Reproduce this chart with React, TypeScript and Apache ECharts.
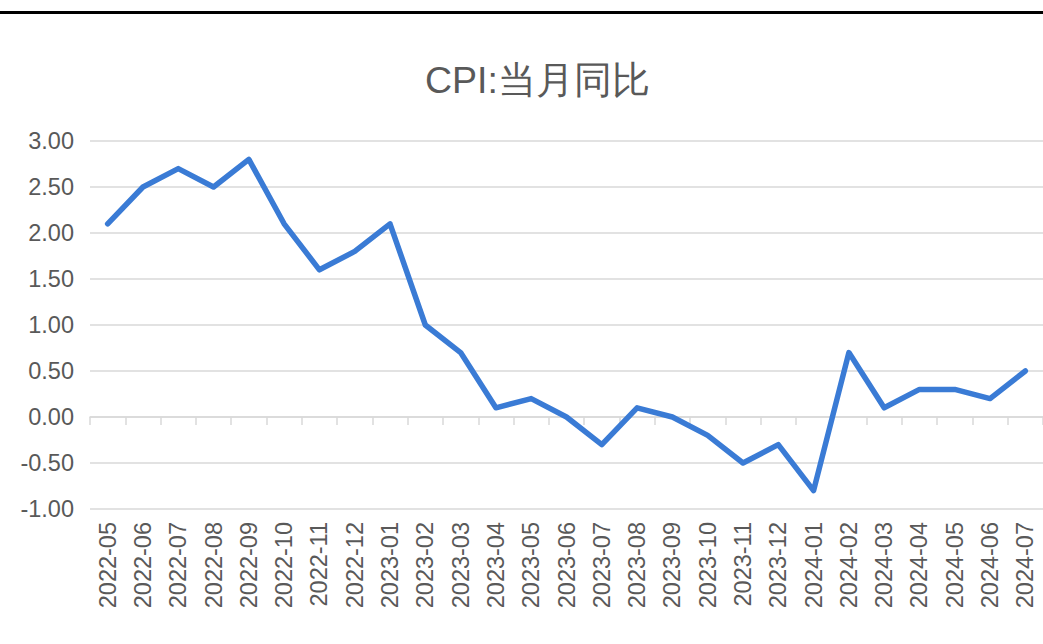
import React, { useEffect, useRef } from "react";
import * as echarts from "echarts";

const categories = [
  "2022-05", "2022-06", "2022-07", "2022-08", "2022-09", "2022-10", "2022-11", "2022-12",
  "2023-01", "2023-02", "2023-03", "2023-04", "2023-05", "2023-06", "2023-07", "2023-08",
  "2023-09", "2023-10", "2023-11", "2023-12", "2024-01", "2024-02", "2024-03", "2024-04",
  "2024-05", "2024-06", "2024-07",
];
const cpiYoY = [
  2.1, 2.5, 2.7, 2.5, 2.8, 2.1, 1.6, 1.8,
  2.1, 1.0, 0.7, 0.1, 0.2, 0.0, -0.3, 0.1,
  0.0, -0.2, -0.5, -0.3, -0.8, 0.7, 0.1, 0.3,
  0.3, 0.2, 0.5,
];
const titleText = "CPI:当月同比";

const FONT = "'Liberation Sans', Arial, sans-serif";

export default function App() {
  const ref = useRef<HTMLDivElement>(null);
  useEffect(() => {
    document.body.style.margin = "0";
    const chart = echarts.init(ref.current!, null, { renderer: "svg" });
    chart.setOption({
      animation: false,
      title: {
        text: titleText,
        left: 420,
        top: 56,
        textStyle: { fontFamily: FONT, fontSize: 37.5, fontWeight: "normal", color: "#595959" },
      },
      grid: { left: 90, right: 0, top: 141, bottom: 135, containLabel: false },
      xAxis: [
        {
          type: "category",
          data: categories,
          position: "bottom",
          boundaryGap: true,
          axisLine: { show: false, onZero: false },
          axisTick: { show: false },
          splitLine: { show: false },
          axisLabel: {
            rotate: 90,
            margin: 13,
            fontFamily: FONT,
            fontSize: 23.5,
            color: "#595959",
            interval: 0,
          },
        },
        {
          type: "category",
          data: categories,
          position: "bottom",
          boundaryGap: true,
          axisLine: { show: true, onZero: true, lineStyle: { color: "#d9d9d9", width: 1.5 } },
          axisTick: { show: true, inside: false, length: 8, interval: 0, lineStyle: { color: "#d9d9d9", width: 1.5 } },
          axisLabel: { show: false },
          splitLine: { show: false },
        },
      ],
      yAxis: {
        type: "value",
        min: -1,
        max: 3,
        interval: 0.5,
        axisLine: { show: false },
        axisTick: { show: false },
        axisLabel: {
          formatter: (v: number) => v.toFixed(2),
          fontFamily: FONT,
          fontSize: 23.5,
          color: "#595959",
          margin: 16,
        },
        splitLine: { show: true, lineStyle: { color: "#d9d9d9", width: 1.5 } },
      },
      series: [
        {
          type: "line",
          data: cpiYoY,
          xAxisIndex: 0,
          symbol: "none",
          lineStyle: { color: "#3a7bd5", width: 5.5, join: "round", cap: "round" },
          itemStyle: { color: "#3a7bd5" },
        },
      ],
    });
    return () => chart.dispose();
  }, []);
  return (
    <div style={{ position: "absolute", left: 0, top: 0, width: 1043, height: 644, background: "#fff" }}>
      <div ref={ref} style={{ position: "absolute", left: 0, top: 0, width: 1043, height: 644 }} />
      <div style={{ position: "absolute", left: 0, top: 11, width: 1043, height: 3, background: "#000" }} />
    </div>
  );
}
